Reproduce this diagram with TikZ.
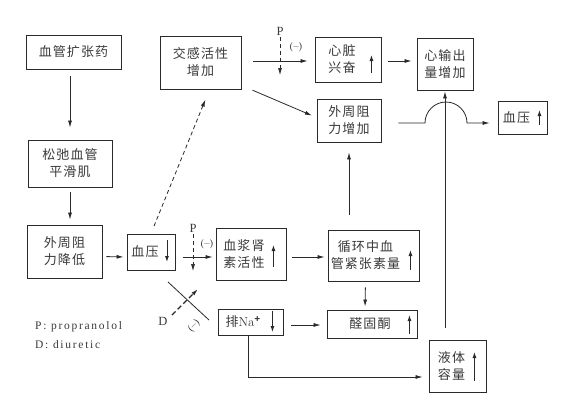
\documentclass[tikz,border=0pt]{standalone}
\usepackage{fontspec}
\usepackage{tikz}
\usetikzlibrary{
  arrows.meta,
  positioning,
  calc
}
\newfontfamily\cjk[LetterSpace=8]{Noto Sans CJK SC}
\newfontfamily\lat[LetterSpace=15]{Liberation Serif}
\definecolor{inkLine}{HTML}{2A2A2A}
\definecolor{inkText}{HTML}{3A3A3A}

\tikzset{
  boxnode/.style={draw=inkLine, line width=0.9pt, inner sep=0pt},
  boxtext/.style={font=\cjk\fontsize{13}{17}\selectfont, align=center, text=inkText, inner sep=0pt},
  conn/.style={draw=inkLine, line width=0.8pt, -{Latex[length=7pt,width=4pt]}},
  inarrow/.style={draw=inkLine, line width=0.9pt, -{Latex[length=6pt,width=4pt]}},
  blocklab/.style={font=\lat\fontsize{12.5}{13}\selectfont, text=inkText, inner sep=0pt},
  minus/.style={font=\fontsize{9}{10}\selectfont\bfseries, text=inkText, inner sep=0pt},
  legend/.style={font=\lat\fontsize{11.5}{13}\selectfont, text=inkText, anchor=west, inner sep=0pt},
  cutdash/.style={dash pattern=on 4pt off 3pt}
}

\begin{document}
\begin{tikzpicture}[x=1pt, y=-1pt]
  \useasboundingbox[fill=white] (0,0) rectangle (566,410);

  % boxes: name / centre / size / text offset / text
  \foreach \id/\x/\y/\w/\h/\dx/\txt in {
    vasod/73.5/52/95/34/0/{血管扩张药},
    relax/70/163.5/84/47/0/{松弛血管\\平滑肌},
    resdown/64.5/251.5/75/53/0/{外周阻\\力降低},
    bpdown/151/252/48/36/-6/{血压},
    symp/200.5/62.5/81/53/0/{交感活性\\增加},
    heart/348/59.5/66/45/-6/{心脏\\兴奋},
    co/445/64/56/52/0/{心输出\\量增加},
    resup/349/120.5/64/43/0/{外周阻\\力增加},
    bpup/522.5/117.5/49/33/-6/{血压},
    renin/251/254/70/52/-7/{血浆肾\\素活性},
    angio/373.5/255.5/91/51/-8/{循环中血\\管紧张素量},
    aldo/372/324/90/28/-2/{醛固酮},
    na/250.5/322/65/26/-7/{排{\rmfamily Na}\textsuperscript{\textbf{+}}},
    fluid/457.5/366/57/52/-6/{液体\\容量}}{
    \node[boxnode, minimum width=\w, minimum height=\h] (\id) at (\x,\y) {};
    \node[boxtext] (\id-t) at ($(\id.center)+(\dx,0)$) {\txt};
  }

  % up / down marks inside the boxes
  \foreach \id/\dx/\ya/\len in {heart/-10/13.5/-18, bpup/-8/7.5/-15,
    renin/-13/13/-22, angio/-9/14.5/-20, aldo/-8/10/-19, na/-11/-11/21,
    bpdown/-8.5/-12/22, fluid/-12/15/-29}
    \draw[inarrow] ($(\id.east)+(\dx,\ya)$) -- ++(0,\len);

  % left column
  \draw[conn, shorten <=7pt, shorten >=12pt] (vasod.south -| relax.north) -- (relax.north);
  \draw[conn, shorten <=5pt, shorten >=5pt] (relax.south) -- (relax.south |- resdown.north);
  \draw[conn, shorten <=4pt, shorten >=3pt] ([yshift=-5]resdown.east) -- ([yshift=-5]bpdown.west);

  % sympathetic branch
  \draw[conn, cutdash, shorten <=8pt, shorten >=11pt] (bpdown.north) -- ([xshift=9]symp.south);
  \draw[conn, shorten <=12pt, shorten >=7pt] ([yshift=1.5]symp.east) -- ([yshift=-1.5]heart.west);
  \draw[conn, shorten <=12pt, shorten >=5pt] ([yshift=4]symp.south east) -- ([yshift=3]resup.west);
  \draw[conn, shorten <=7pt, shorten >=5pt] ([yshift=-1.5]heart.east) -- ([yshift=3]co.west);

  \node[blocklab] (p1) at (280,31) {P};
  \coordinate (p1end) at (280,75);
  \draw[conn, cutdash, line width=0.7pt, shorten <=2pt] (p1) -- (p1end);
  \node[minus] (m1) at (296,47) {(--)};

  % output
  \coordinate (hump) at (446,123);
  \draw[conn, shorten <=17pt, shorten >=8pt] (resup.east |- hump) -- ([xshift=-21]hump)
    arc[start angle=180, end angle=0, radius=21pt] -- (hump -| bpup.west);
  \draw[conn, shorten <=12pt, shorten >=1pt] (fluid.north -| co.south) -- (co.south);

  % renin branch
  \draw[conn, shorten <=8pt, shorten >=3pt] ([yshift=-5]bpdown.east) -- ([yshift=-3]renin.west);
  \node[blocklab] (p2) at (193,228) {P};
  \coordinate (p2end) at (193,271);
  \draw[conn, cutdash, line width=0.7pt, shorten <=2pt] (p2) -- (p2end);
  \node[minus] (m2) at (207,244) {(--)};

  \draw[conn, shorten <=6pt, shorten >=3pt] ([yshift=-3]renin.east) -- ([yshift=-1.5]angio.west);
  \draw[conn, shorten <=15pt, shorten >=10pt] (angio.north -| resup.south) -- (resup.south);
  \draw[conn, shorten <=6pt, shorten >=3pt] ([xshift=-8]angio.south) -- ([xshift=-7]aldo.north);

  % diuretic branch
  \coordinate (dcutA) at (168,282);
  \coordinate (dcutB) at (209,320);
  \draw[draw=inkLine, line width=0.8pt] (dcutA) -- (dcutB);
  \node[blocklab] (dlab) at (163,321) {D};
  \coordinate (dtail) at (172,315);
  \coordinate (dhead) at (198,289);
  \draw[conn, line width=1.3pt, dash pattern=on 5pt off 3pt] (dtail) -- (dhead);
  \node[minus, rotate=45] (m3) at (194,326) {(--)};

  \draw[conn, line width=0.6pt, shorten <=8pt, shorten >=6pt] ([yshift=-3]na.east) -- ([yshift=-1]aldo.west);
  \draw[conn, shorten >=6pt] ([xshift=-2.5]na.south) |- ([yshift=-11]fluid.west);

  % legend
  \node[legend] (leg-p) at (35,327) {P: propranolol};
  \node[legend] (leg-d) at (35,345) {D: diuretic};
\end{tikzpicture}
\end{document}
